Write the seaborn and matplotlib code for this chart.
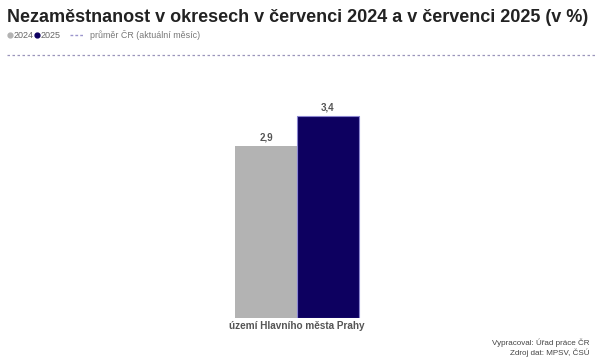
import matplotlib
matplotlib.use("Agg")
import matplotlib.pyplot as plt
import seaborn as sns
import pandas as pd

categories = ["území Hlavního města Prahy"]
years = ["2024", "2025"]
values_2024 = [2.9]
values_2025 = [3.4]
colors = {"2024": "#b3b3b3", "2025": "#0d0060"}

df = pd.DataFrame({
    "okres": categories * 2,
    "rok": ["2024"] * len(categories) + ["2025"] * len(categories),
    "hodnota": values_2024 + values_2025,
})

sns.set_theme(style="white")
plt.rcParams["font.family"] = ["Liberation Sans", "DejaVu Sans"]

fig = plt.figure(figsize=(6.0, 3.63), dpi=100)
ax = fig.add_axes([7 / 600, 1 - 318 / 363, 580 / 600, (318 - 70) / 363])

sns.barplot(data=df, x="okres", y="hodnota", hue="rok", palette=colors,
            hue_order=years, ax=ax, legend=False, width=0.8, saturation=1)

for patch, yr in zip(ax.patches, years):
    if yr == "2025":
        patch.set_edgecolor("#8b86d0")
        patch.set_linewidth(0.8)
    else:
        patch.set_linewidth(0)

for cont in ax.containers:
    ax.bar_label(cont, labels=[f"{v:.1f}".replace(".", ",") for v in cont.datavalues],
                 padding=2.5, fontsize=7, fontweight="bold", color="#555555")

ax.set_xlim(-1.87, 1.87)
ax.set_ylim(0, 248 / 59.4)
ax.set_xlabel("")
ax.set_ylabel("")
ax.set_yticks([])
ax.tick_params(axis="x", length=0, pad=2.5)
for lbl in ax.get_xticklabels():
    lbl.set_fontsize(7.2)
    lbl.set_fontweight("bold")
    lbl.set_color("#555555")
for s in ax.spines.values():
    s.set_visible(False)
ax.set_facecolor("none")

# Title
fig.text(7 / 600, 1 - 22 / 363, "Nezaměstnanost v okresech v červenci 2024 a v červenci 2025 (v %)",
         fontsize=13.0, fontweight="bold", color="#222222", ha="left", va="baseline")

# Legend row
ly = 1 - 35 / 363
fig.lines.append(plt.Line2D([10 / 600], [ly], marker="o", markersize=3.5, color=colors["2024"],
                            transform=fig.transFigure, linestyle="none"))
fig.text(14 / 600, ly, "2024", fontsize=6.5, color="#666666", va="center", ha="left")
fig.lines.append(plt.Line2D([37 / 600], [ly], marker="o", markersize=3.5, color=colors["2025"],
                            transform=fig.transFigure, linestyle="none"))
fig.text(41 / 600, ly, "2025", fontsize=6.5, color="#666666", va="center", ha="left")
fig.lines.append(plt.Line2D([70 / 600, 83 / 600], [ly, ly], color="#9b95cc", linewidth=1,
                            linestyle=(0, (2, 1.5)), transform=fig.transFigure))
fig.text(90 / 600, ly, "průměr ČR (aktuální měsíc)", fontsize=6.4, color="#777777",
         va="center", ha="left")

# Separator
sy = 1 - 55 / 363
fig.lines.append(plt.Line2D([7 / 600, 596 / 600], [sy, sy], color="#9b95bb", linewidth=0.9,
                            linestyle=(0, (2, 2)), transform=fig.transFigure))

# Footer
fig.text(590 / 600, 1 - 343 / 363, "Vypracoval: Úřad práce ČR", fontsize=5.8, color="#444444",
         ha="right", va="center")
fig.text(590 / 600, 1 - 353 / 363, "Zdroj dat: MPSV, ČSÚ", fontsize=5.8, color="#444444",
         ha="right", va="center")

fig.savefig("out.png", dpi=100, facecolor="white")
